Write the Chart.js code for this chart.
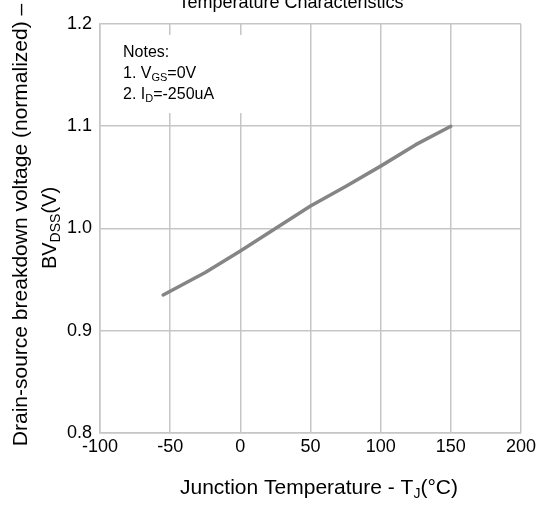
<!DOCTYPE html>
<html>
<head>
<meta charset="utf-8">
<script src="https://cdn.jsdelivr.net/npm/chart.js@4/dist/chart.umd.min.js"></script>
<style>
  html, body { margin: 0; padding: 0; background: #ffffff; }
  #c { display: block; }
</style>
</head>
<body>
<canvas id="c" width="540" height="506"></canvas>
<script>
// ---- Data ----
const junctionTemps = [-55, -25, 0, 25, 50, 75, 100, 125, 150];           // °C
const bvdssNormalized = [0.935, 0.957, 0.978, 1.000, 1.022, 1.041, 1.061, 1.082, 1.100];

const xTickValues = [-100, -50, 0, 50, 100, 150, 200];
const xTickLabels = ['-100', '-50', '0', '50', '100', '150', '200'];
const yTickValues = [0.8, 0.9, 1.0, 1.1, 1.2];
const yTickLabels = ['0.8', '0.9', '1.0', '1.1', '1.2'];

const titleText = 'Temperature Characteristics';
const yTitleLine1 = [{ t: 'Drain-source breakdown voltage (normalized) \u2013' }];
const yTitleLine2 = [{ t: 'BV' }, { t: 'DSS', sub: true }, { t: '(V)' }];
const xTitle = [{ t: 'Junction Temperature - T' }, { t: 'J', sub: true }, { t: '(\u00B0C)' }];
const notesLines = [
  [{ t: 'Notes:' }],
  [{ t: '1. V' }, { t: 'GS', sub: true }, { t: '=0V' }],
  [{ t: '2. I' }, { t: 'D', sub: true }, { t: '=-250uA' }]
];

const FONT = '"Liberation Sans", Arial, Helvetica, sans-serif';

function richWidth(ctx, segs, size) {
  let w = 0;
  for (const s of segs) {
    ctx.font = (s.sub ? Math.round(size * 0.68) : size) + 'px ' + FONT;
    w += ctx.measureText(s.t).width;
  }
  return w;
}
function drawRich(ctx, segs, x, y, size, align) {
  const total = richWidth(ctx, segs, size);
  let cx = align === 'center' ? x - total / 2 : x;
  ctx.textAlign = 'left';
  ctx.textBaseline = 'alphabetic';
  for (const s of segs) {
    const fs = s.sub ? Math.round(size * 0.68) : size;
    ctx.font = fs + 'px ' + FONT;
    ctx.fillText(s.t, cx, y + (s.sub ? size * 0.2 : 0));
    cx += ctx.measureText(s.t).width;
  }
}

const textPlugin = {
  id: 'textPlugin',
  beforeDatasetsDraw(chart) {
    const ctx = chart.ctx;
    const a = chart.chartArea;
    // white notes box covering gridlines
    ctx.save();
    ctx.fillStyle = '#ffffff';
    ctx.fillRect(a.left + 2, a.top + 11, 160, 78);
    ctx.restore();
  },
  afterDraw(chart) {
    const ctx = chart.ctx;
    ctx.save();
    ctx.fillStyle = '#000000';
    // title (partially cut at top)
    ctx.font = '18px ' + FONT;
    ctx.textAlign = 'center';
    ctx.textBaseline = 'alphabetic';
    ctx.fillText(titleText, 291, 8);
    // notes
    const nb = [57, 78, 99];
    notesLines.forEach((ln, i) => drawRich(ctx, ln, 123, nb[i], 16, 'left'));
    // x title
    drawRich(ctx, xTitle, 319, 494, 21, 'center');
    // y title (rotated)
    ctx.save();
    ctx.translate(27, 225);
    ctx.rotate(-Math.PI / 2);
    drawRich(ctx, yTitleLine1, 0, 0, 21, 'center');
    ctx.restore();
    ctx.save();
    ctx.translate(56, 228);
    ctx.rotate(-Math.PI / 2);
    drawRich(ctx, yTitleLine2, 0, 0, 20, 'center');
    ctx.restore();
    ctx.restore();
  }
};

new Chart(document.getElementById('c'), {
  type: 'scatter',
  data: {
    datasets: [{
      data: junctionTemps.map((t, i) => ({ x: t, y: bvdssNormalized[i] })),
      showLine: true,
      borderColor: '#858585',
      borderWidth: 3.5,
      borderCapStyle: 'round',
      borderJoinStyle: 'round',
      pointRadius: 0,
      tension: 0
    }]
  },
  options: {
    responsive: false,
    animation: false,
    devicePixelRatio: 1,
    layout: { padding: { top: 24, right: 19, left: 0, bottom: 0 } },
    plugins: { legend: { display: false }, title: { display: false }, tooltip: { enabled: false } },
    scales: {
      x: {
        type: 'linear',
        min: -100, max: 200,
        afterBuildTicks(scale) { scale.ticks = xTickValues.map(v => ({ value: v })); },
        afterFit(scale) { scale.height = 73; scale.paddingLeft = 0; scale.paddingRight = 0; },
        ticks: {
          color: '#000000',
          font: { family: FONT, size: 18 },
          padding: 3,
          maxRotation: 0,
          callback: (v) => xTickLabels[xTickValues.indexOf(v)]
        },
        grid: { color: '#c6c6c6', lineWidth: 1.5, drawTicks: false },
        border: { color: '#c6c6c6', width: 1.5 }
      },
      y: {
        type: 'linear',
        min: 0.8, max: 1.2,
        afterBuildTicks(scale) { scale.ticks = yTickValues.map(v => ({ value: v })); },
        afterFit(scale) { scale.width = 100; scale.paddingTop = 0; scale.paddingBottom = 0; },
        ticks: {
          color: '#000000',
          font: { family: FONT, size: 18 },
          padding: 8,
          callback: (v) => {
            const i = yTickValues.findIndex(t => Math.abs(t - v) < 1e-9);
            return i >= 0 ? yTickLabels[i] : '';
          }
        },
        grid: { color: '#c6c6c6', lineWidth: 1.5, drawTicks: false },
        border: { color: '#c6c6c6', width: 1.5 }
      }
    }
  },
  plugins: [textPlugin]
});
</script>
</body>
</html>
